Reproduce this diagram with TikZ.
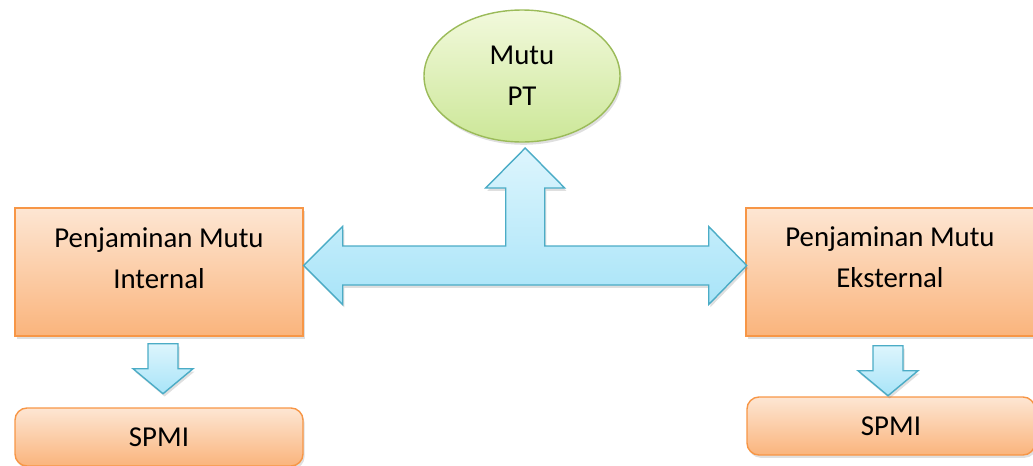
\documentclass[tikz,border=0pt]{standalone}
\usepackage{fontspec}
\setmainfont{Carlito}
\usepackage{tikz}
\usetikzlibrary{shapes.geometric, arrows, positioning, calc, shadows}
\definecolor{boxline}{HTML}{F79646}
\definecolor{boxtop}{HTML}{FDE6D3}
\definecolor{boxbottom}{HTML}{FAB47C}
\definecolor{goalline}{HTML}{9BBB59}
\definecolor{goaltop}{HTML}{F2F9DC}
\definecolor{goalbottom}{HTML}{CCE798}
\definecolor{arrowline}{HTML}{4BACC6}
\definecolor{arrowtop}{HTML}{DDF5FD}
\definecolor{arrowbottom}{HTML}{A8E4F8}
\tikzset{every node/.style={font=\fontsize{20.5}{29}\selectfont}}

\begin{document}
\begin{tikzpicture}
    % Define styles
    \tikzstyle{mainbox} = [rectangle, minimum width=7.2cm, minimum height=3.2cm, draw=boxline, line width=1pt, top color=boxtop, bottom color=boxbottom, drop shadow={opacity=0.25, shadow xshift=0.04cm, shadow yshift=-0.07cm}]
    \tikzstyle{subbox} = [rectangle, rounded corners=0.3cm, minimum width=7.2cm, minimum height=1.45cm, draw=boxline, line width=1pt, top color=boxtop, bottom color=boxbottom, drop shadow={opacity=0.25, shadow xshift=0.04cm, shadow yshift=-0.07cm}]
    \tikzstyle{boxtext} = [align=center, inner sep=0pt]
    \tikzstyle{goal} = [ellipse, minimum width=4.9cm, minimum height=3.3cm, inner sep=0pt, align=center, draw=goalline, line width=1pt, top color=goaltop, bottom color=goalbottom, drop shadow={opacity=0.25, shadow xshift=0.04cm, shadow yshift=-0.07cm}]
    \tikzstyle{blockarrow} = [draw=arrowline, line width=1pt, top color=arrowtop, bottom color=arrowbottom, drop shadow={opacity=0.25, shadow xshift=0.04cm, shadow yshift=-0.07cm}]

    \useasboundingbox (0,0) rectangle (25.825,-11.625);

    % Mutu PT at top
    \node (mutupt) [goal] at (13.05,-1.9) {Mutu\\PT};

    % Internal and external quality assurance
    \node (pmi) [mainbox] at (3.975,-6.8) {};
    \node (pmitext) [boxtext] at ([yshift=0.34cm]pmi.center) {Penjaminan Mutu\\Internal};
    \node (pme) [mainbox] at (22.25,-6.8) {};
    \node (pmetext) [boxtext] at ([yshift=0.37cm]pme.center) {Penjaminan Mutu\\Eksternal};

    % SPMI boxes
    \node (spmi1) [subbox] at (3.975,-10.925) {SPMI};
    \node (spmi2) [subbox] at (22.275,-10.65) {SPMI};

    % Three-way block arrow
    \draw [blockarrow] ([yshift=0.1625cm]pmi.east) -- ++(0.975,0.975) -- ++(0,-0.4875)
        -- ++(4.075,0) -- ++(0,1.45) -- ++(-0.5,0) -- ++(0.9875,1.0) -- ++(0.9875,-1.0)
        -- ++(-0.5,0) -- ++(0,-1.45) -- ++(4.1,0) -- ++(0,0.4875) -- ++(0.95,-0.975)
        -- ++(-0.95,-0.975) -- ++(0,0.4875) -- ++(-9.15,0) -- ++(0,-0.4875) -- cycle;

    % Down arrows to SPMI
    \draw [blockarrow] ([xshift=-0.275cm,yshift=-0.175cm]pmi.south) -- ++(0.75,0) -- ++(0,-0.625)
        -- ++(0.375,0) -- ++(-0.75,-0.625) -- ++(-0.75,0.625) -- ++(0.375,0) -- cycle;
    \draw [blockarrow] ([xshift=-0.425cm,yshift=-0.225cm]pme.south) -- ++(0.75,0) -- ++(0,-0.625)
        -- ++(0.375,0) -- ++(-0.75,-0.625) -- ++(-0.75,0.625) -- ++(0.375,0) -- cycle;
\end{tikzpicture}
\end{document}
